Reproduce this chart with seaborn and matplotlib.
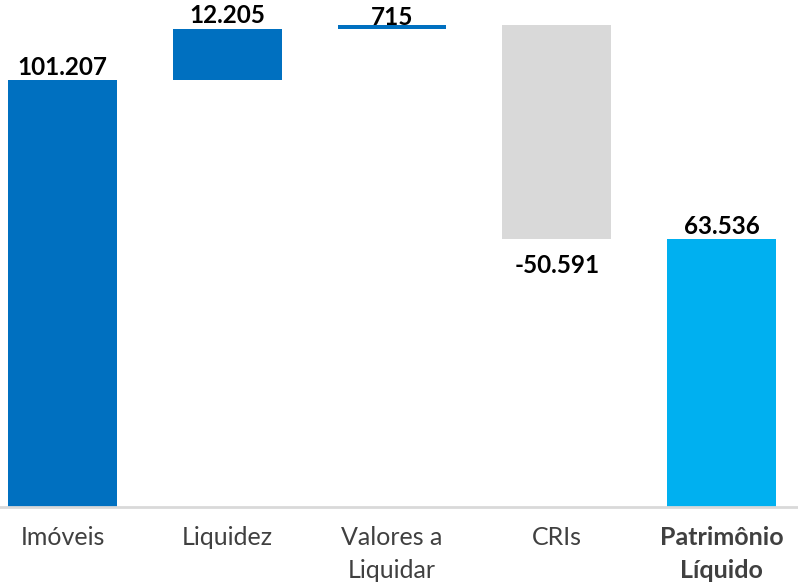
import pandas as pd
import seaborn as sns
import matplotlib.pyplot as plt

sns.set_theme(style="white")
plt.rcParams['font.family'] = ['Lato', 'DejaVu Sans']

categories = ['Imóveis', 'Liquidez', 'Valores a\nLiquidar', 'CRIs', 'Patrimônio\nLíquido']
values = [101207, 12205, 715, -50591, 63536]
labels = ['101.207', '12.205', '715', '-50.591', '63.536']
colors = ['#0070C0', '#0070C0', '#0070C0', '#D9D9D9', '#00B0F0']

# waterfall: running totals give the floating bar ends
tops, bases = [], []
running = 0
for i, v in enumerate(values):
    if i == len(values) - 1:
        low, high = 0, v
    else:
        low, high = sorted([running, running + v])
        running += v
    bases.append(low)
    tops.append(high)

df = pd.DataFrame({'cat': categories, 'top': tops, 'base': bases, 'val': values})

fig = plt.figure(figsize=(7.98, 5.85), dpi=100)
ax = fig.add_axes([0, 0.1333, 1, 0.8667])

sns.barplot(data=df, x='cat', y='top', hue='cat', palette=colors, legend=False,
            width=0.66, saturation=1, linewidth=0, ax=ax)
sns.barplot(data=df, x='cat', y='base', color='white', width=0.68,
            saturation=1, linewidth=0, ax=ax)

for i, row in df.iterrows():
    if row['val'] < 0:
        ax.text(i, row['base'] - 3500, labels[i], ha='center', va='top',
                fontsize=17.5, fontweight='bold', color='black')
    else:
        off = -900 if abs(row['val']) < 5000 else 300
        ax.text(i, row['top'] + off, labels[i], ha='center', va='bottom',
                fontsize=17.5, fontweight='bold', color='black')

ax.set_xlim(-0.379, 4.464)
ax.set_ylim(0, 120170)
ax.set_xlabel('')
ax.set_ylabel('')
ax.set_yticks([])
ax.tick_params(axis='x', length=0, pad=14, labelsize=18, labelcolor='#404040')
for lbl in ax.get_xticklabels():
    lbl.set_linespacing(1.5)
    if lbl.get_text().startswith('Patrim'):
        lbl.set_fontweight('bold')
for s in ['top', 'left', 'right']:
    ax.spines[s].set_visible(False)
ax.spines['bottom'].set_color('#D9D9D9')
ax.spines['bottom'].set_linewidth(2)

fig.savefig('out.png', dpi=100)
